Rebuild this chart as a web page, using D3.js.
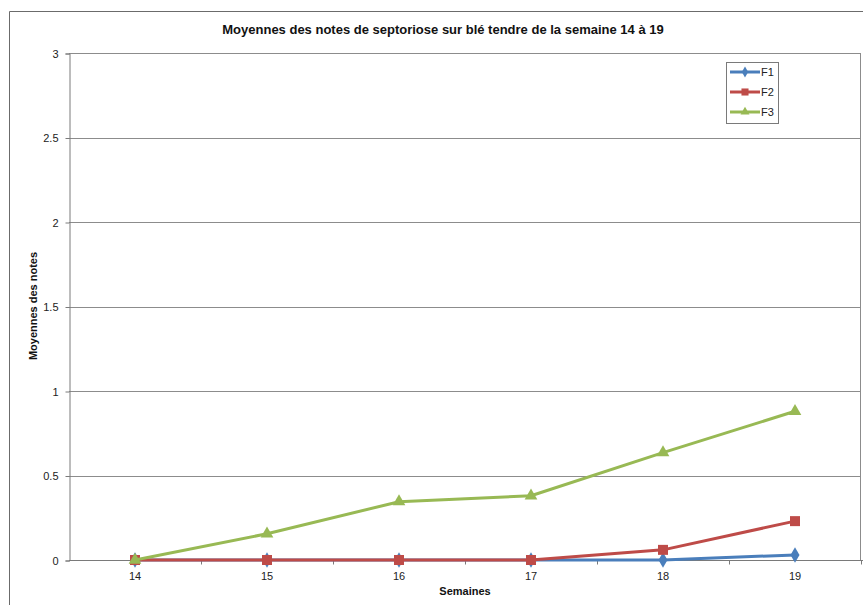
<!DOCTYPE html>
<html>
<head>
<meta charset="utf-8">
<script src="https://cdn.jsdelivr.net/npm/d3@7"></script>
<style>
  body { margin: 0; background: #fff; }
  svg { font-family: "Liberation Sans", Arial, sans-serif; }
</style>
</head>
<body>
<svg id="chart" width="863" height="605"></svg>
<script>
const weeks = ['14', '15', '16', '17', '18', '19'];
const f1 = [0, 0, 0, 0, 0, 0.03];
const f2 = [0, 0, 0, 0, 0.06, 0.23];
const f3 = [0, 0.155, 0.345, 0.38, 0.635, 0.88];
const yTicks = [0, 0.5, 1, 1.5, 2, 2.5, 3];
const seriesNames = ['F1', 'F2', 'F3'];
const colors = ['#4a7ebb', '#be4b48', '#98b954'];
const symbols = [d3.symbolDiamond, d3.symbolSquare, d3.symbolTriangle];

const svg = d3.select('#chart');
const margin = { left: 69, right: 2, top: 53, bottom: 45 };
const width = 863, height = 605;

// outer chart frame
svg.append('path')
  .attr('d', 'M9.5,605 V11.5 H863')
  .attr('fill', 'none')
  .attr('stroke', '#6b6b6b')
  .attr('stroke-width', 1);

const x = d3.scaleBand().domain(weeks).range([margin.left, width - margin.right]);
const y = d3.scaleLinear().domain([0, 3]).range([height - margin.bottom, margin.top]);

// gridlines
svg.append('g').selectAll('line')
  .data(yTicks.filter(d => d > 0))
  .join('line')
  .attr('x1', margin.left).attr('x2', width - margin.right)
  .attr('y1', d => Math.round(y(d)) + 0.5).attr('y2', d => Math.round(y(d)) + 0.5)
  .attr('stroke', '#8c8c8c');

// right border of plot
svg.append('line')
  .attr('x1', width - margin.right - 0.5).attr('x2', width - margin.right - 0.5)
  .attr('y1', margin.top).attr('y2', height - margin.bottom)
  .attr('stroke', '#8c8c8c');

// y axis
const yAxis = svg.append('g')
  .attr('transform', `translate(${margin.left + 0.5},0.5)`)
  .call(d3.axisLeft(y).tickValues(yTicks).tickFormat(d => String(d)).tickSize(4).tickPadding(7));
yAxis.select('.domain').attr('stroke', '#7a7a7a');
yAxis.selectAll('.tick line').attr('stroke', '#7a7a7a');
yAxis.selectAll('text').attr('font-size', 11).attr('fill', '#222');

// x axis with ticks between categories
const xAxisG = svg.append('g')
  .attr('transform', `translate(0,${Math.round(y(0)) + 0.5})`);
xAxisG.append('line')
  .attr('x1', margin.left).attr('x2', width)
  .attr('stroke', '#7a7a7a');
xAxisG.selectAll('line.tk')
  .data(weeks.slice(1).concat(['end']))
  .join('line')
  .attr('class', 'tk')
  .attr('x1', (d, i) => Math.round(margin.left + x.step() * (i + 1)) + 0.5)
  .attr('x2', (d, i) => Math.round(margin.left + x.step() * (i + 1)) + 0.5)
  .attr('y1', 0).attr('y2', 4)
  .attr('stroke', '#7a7a7a');
xAxisG.selectAll('text')
  .data(weeks)
  .join('text')
  .attr('x', d => x(d) + x.bandwidth() / 2)
  .attr('y', 19)
  .attr('text-anchor', 'middle')
  .attr('font-size', 11)
  .attr('fill', '#222')
  .text(d => d);

// series, drawn F1 then F2 then F3 so later ones sit on top
const allSeries = [f1, f2, f3];
const line = d3.line()
  .x((d, i) => x(weeks[i]) + x.bandwidth() / 2)
  .y(d => y(d));

[0, 1, 2].forEach(s => {
  const data = allSeries[s];
  const g = svg.append('g');
  g.append('path')
    .datum(data)
    .attr('d', line)
    .attr('fill', 'none')
    .attr('stroke', colors[s])
    .attr('stroke-width', 3)
    .attr('stroke-linejoin', 'round');
  g.selectAll('path.m')
    .data(data)
    .join('path')
    .attr('class', 'm')
    .attr('transform', (d, i) => `translate(${x(weeks[i]) + x.bandwidth() / 2},${y(d)})`)
    .attr('d', d3.symbol().type(symbols[s]).size(s === 1 ? 100 : 70))
    .attr('fill', colors[s]);
});

// legend
const legend = svg.append('g');
legend.append('rect')
  .attr('x', 726.5).attr('y', 62.5)
  .attr('width', 52).attr('height', 61)
  .attr('fill', '#fff')
  .attr('stroke', '#7a7a7a');
seriesNames.forEach((name, i) => {
  const ly = 72 + i * 20;
  legend.append('line')
    .attr('x1', 730).attr('x2', 760)
    .attr('y1', ly).attr('y2', ly)
    .attr('stroke', colors[i]).attr('stroke-width', 3);
  legend.append('path')
    .attr('transform', `translate(745,${ly})`)
    .attr('d', d3.symbol().type(symbols[i]).size(i === 1 ? 50 : 35))
    .attr('fill', colors[i]);
  legend.append('text')
    .attr('x', 761).attr('y', ly + 4)
    .attr('font-size', 11)
    .attr('fill', '#222')
    .text(name);
});

// title and axis titles
svg.append('text')
  .attr('x', 443).attr('y', 34)
  .attr('text-anchor', 'middle')
  .attr('font-size', 13).attr('font-weight', 'bold')
  .attr('fill', '#111')
  .text('Moyennes des notes de septoriose sur blé tendre de la semaine 14 à 19');

svg.append('text')
  .attr('x', 465).attr('y', 595)
  .attr('text-anchor', 'middle')
  .attr('font-size', 11).attr('font-weight', 'bold')
  .attr('fill', '#111')
  .text('Semaines');

svg.append('text')
  .attr('transform', 'translate(37,306) rotate(-90)')
  .attr('text-anchor', 'middle')
  .attr('font-size', 11).attr('font-weight', 'bold')
  .attr('fill', '#111')
  .text('Moyennes des notes');
</script>
</body>
</html>
